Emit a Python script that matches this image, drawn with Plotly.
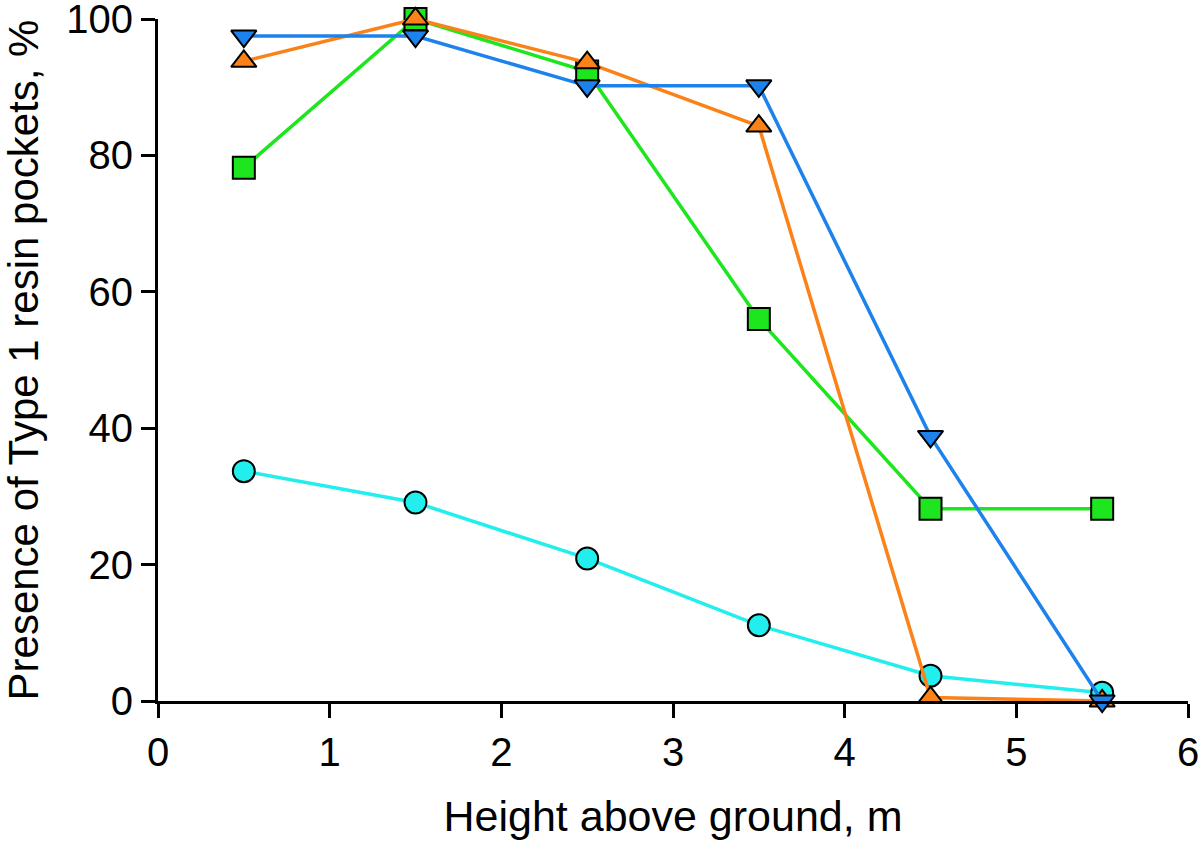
import plotly.graph_objects as go

heights = [0.5, 1.5, 2.5, 3.5, 4.5, 5.5]
cyan_circle = [33.7, 29.1, 20.9, 11.1, 3.7, 1.2]
green_square = [78.2, 100.0, 92.3, 56.0, 28.2, 28.2]
orange_up = [93.8, 100.0, 93.6, 84.3, 0.5, 0.0]
blue_down = [97.5, 97.5, 90.2, 90.2, 38.8, 0.0]

x_ticks = [0, 1, 2, 3, 4, 5, 6]
y_ticks = [0, 20, 40, 60, 80, 100]

series = [
    ("Circle", cyan_circle, "#22EEEE", "circle"),
    ("Square", green_square, "#1EE61E", "square"),
    ("Up", orange_up, "#FA8218", "triangle-up"),
    ("Down", blue_down, "#1E82EC", "triangle-down"),
]

fig = go.Figure()
for name, ys, color, sym in series:
    fig.add_trace(go.Scatter(
        x=heights, y=ys, name=name, mode="lines+markers",
        line=dict(color=color, width=3.5),
        marker=dict(symbol=sym, size=22, color=color,
                    line=dict(color="black", width=2)),
        cliponaxis=False,
    ))

font = "Liberation Sans, Arial, sans-serif"
axis_common = dict(
    showgrid=False, zeroline=False, showline=True, linecolor="black",
    linewidth=3, ticks="outside", ticklen=14, tickwidth=3,
    tickcolor="black", tickfont=dict(size=40), ticklabeloverflow="allow",
    automargin=False,
)
fig.update_layout(
    width=1200, height=844,
    margin=dict(l=158, r=12, t=19, b=143),
    paper_bgcolor="white", plot_bgcolor="white",
    showlegend=False,
    font=dict(family=font, color="black", size=40),
    xaxis=dict(
        range=[0, 6], tickvals=x_ticks, ticktext=[str(v) for v in x_ticks],
        title=dict(text="Height above ground, m", font=dict(size=43), standoff=28),
        **axis_common,
    ),
    yaxis=dict(
        range=[0, 100], tickvals=y_ticks, ticktext=[str(v) for v in y_ticks],
        title=dict(text="Presence of Type 1 resin pockets, %", font=dict(size=42), standoff=36),
        **axis_common,
    ),
)

fig.write_html("out.html", config={"displayModeBar": False},
               post_script="document.body.style.margin='0';document.body.style.overflow='hidden';")
